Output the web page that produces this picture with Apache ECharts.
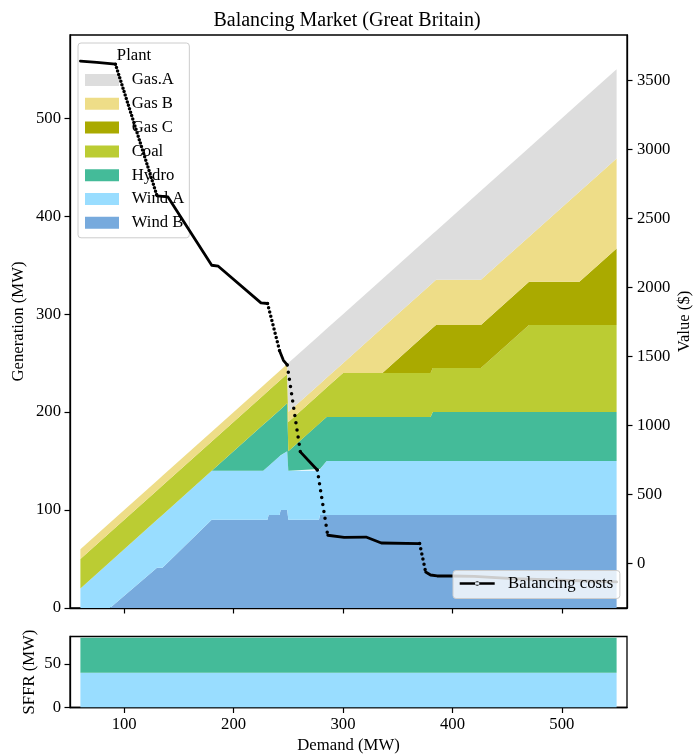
<!DOCTYPE html>
<html>
<head>
<meta charset="utf-8">
<script src="https://cdn.jsdelivr.net/npm/echarts@6/dist/echarts.min.js"></script>
<style>
  html, body { margin: 0; padding: 0; background: #ffffff; }
  #chart { width: 694px; height: 755px; }
</style>
</head>
<body>
<div id="chart"></div>
<script>
// Dispatch of each plant against system demand (MW)
const demand = [60, 87, 130, 135, 180, 227, 231, 232, 242, 243, 249, 250, 278, 279, 285, 300, 336, 380, 382, 385, 426, 470, 516, 550];
const windB  = [0, 0, 41, 41, 90, 90, 90, 95, 95, 100, 100, 90, 90, 95, 95, 95, 95, 95, 95, 95, 95, 95, 95, 95];
const windA  = [20, 47, 49, 54, 50, 50, 54, 50, 60, 56, 60, 50, 50, 47, 55, 55, 55, 55, 55, 55, 55, 55, 55, 55];
const hydro  = [0, 0, 0, 0, 0, 47, 47, 47, 47, 47, 49, 20, 48, 47, 45, 45, 45, 45, 50, 50, 50, 50, 50, 50];
const coal   = [30, 30, 30, 30, 30, 30, 30, 30, 30, 30, 30, 30, 30, 30, 30, 45, 45, 45, 45, 45, 45, 89, 89, 89];
const gasC   = [0, 0, 0, 0, 0, 0, 0, 0, 0, 0, 0, 0, 0, 0, 0, 0, 0, 44, 41, 44, 44, 44, 44, 78];
const gasB   = [10, 10, 10, 10, 10, 10, 10, 10, 10, 10, 10, 10, 10, 10, 10, 10, 46, 46, 46, 46, 46, 46, 92, 92];
const gasA   = [0, 0, 0, 0, 0, 0, 0, 0, 0, 0, 0, 50, 50, 50, 50, 50, 50, 50, 50, 50, 91, 91, 91, 91];

// Balancing costs ($) against demand (MW)
const costDemand = [60, 75, 92, 130, 140, 180, 186, 225, 231, 242, 245.5, 249, 261, 276.5, 286, 301, 321, 335, 370, 375.5, 380, 386, 399, 420, 455, 500, 550];
const costValue  = [3638, 3628, 3616, 2662, 2654, 2159, 2152, 1886, 1882, 1540, 1470, 1437, 807, 676, 203, 188, 190, 147, 143, -63, -85, -92, -92, -95, -111, -123, -135];
// Index ranges of the steep stretches, where the cost points spread out into dots
const costSteepRuns = [[2, 3], [8, 9], [11, 12], [13, 14], [18, 19]];

// SFFR provision (MW)
const sffrDemand = [60, 550];
const sffrWindA  = [40, 40];
const sffrHydro  = [40, 40];

// Tick labels
const demandTicks = [100, 200, 300, 400, 500];
const generationTicks = [0, 100, 200, 300, 400, 500];
const valueTicks = [0, 500, 1000, 1500, 2000, 2500, 3000, 3500];
const sffrTicks = [0, 50];

// ---- styling ----
const FONT = '"Liberation Serif", "DejaVu Serif", serif';
const TXT = 16.7;
const plantStyle = {
  'Wind B': '#77AADD',
  'Wind A': '#99DDFF',
  'Hydro':  '#44BB99',
  'Coal':   '#BBCC33',
  'Gas C':  '#AAAA00',
  'Gas B':  '#EEDD88',
  'Gas.A':  '#DDDDDD'
};
const dotGaps = [3.6, 4.4, 7.3, 7.0, 5.3];
const patchIcon = 'path://M0,0H34V12H0Z M41.7,0L41.7,0 M41.7,12L41.7,12';
const costIcon = 'path://M0,3.7H35V6.3H0Z M15.3,5A2.2,2.2 0 1,0 19.7,5A2.2,2.2 0 1,0 15.3,5Z M43.3,0L43.3,0 M43.3,10L43.3,10';

// Value first, demand second: the stack then runs along the value (y) dimension.
const stackRows = (xs, ys) => xs.map((x, i) => [ys[i], x]);
const pairs = (xs, ys) => xs.map((x, i) => [x, ys[i]]);

const plants = [
  ['Wind B', windB], ['Wind A', windA], ['Hydro', hydro], ['Coal', coal],
  ['Gas C', gasC], ['Gas B', gasB], ['Gas.A', gasA]
];

const series = plants.map(([name, vals]) => ({
  name, type: 'line', stack: 'generation',
  xAxisIndex: 0, yAxisIndex: 0,
  data: stackRows(demand, vals),
  encode: { x: 1, y: 0 },
  color: plantStyle[name],
  showSymbol: false, symbol: 'none',
  lineStyle: { width: 0 },
  areaStyle: { color: plantStyle[name], opacity: 1 },
  silent: true, z: 2
}));

function costLine(i0, i1, gap) {
  const xs = costDemand.slice(i0, i1 + 1);
  const ys = costValue.slice(i0, i1 + 1);
  return {
    name: 'Balancing costs', type: 'line',
    xAxisIndex: 0, yAxisIndex: 1,
    data: pairs(xs, ys),
    color: '#000000',
    showSymbol: false, symbol: 'none',
    lineStyle: gap
      ? { color: '#000000', width: 3.5, type: [0, gap], cap: 'round' }
      : { color: '#000000', width: 2.8, cap: 'round', join: 'round' },
    silent: true, z: 5
  };
}
let from = 0;
costSteepRuns.forEach((run, k) => {
  if (run[0] > from) series.push(costLine(from, run[0], null));
  series.push(costLine(run[0], run[1], dotGaps[k]));
  from = run[1];
});
if (from < costDemand.length - 1) series.push(costLine(from, costDemand.length - 1, null));

[['Wind A', sffrWindA], ['Hydro', sffrHydro]].forEach(([name, vals]) => {
  series.push({
    name: 'SFFR ' + name, type: 'line', stack: 'sffr',
    xAxisIndex: 1, yAxisIndex: 2,
    data: stackRows(sffrDemand, vals),
    encode: { x: 1, y: 0 },
    color: plantStyle[name],
    showSymbol: false, symbol: 'none',
    lineStyle: { width: 0 },
    areaStyle: { color: plantStyle[name], opacity: 1 },
    silent: true, z: 2
  });
});

const plain = v => String(v);
const tickStyle = { show: true, length: 5.5, lineStyle: { color: '#000', width: 1.2 } };
const lineStyleAxis = { show: true, lineStyle: { color: '#000', width: 1.3 } };
const labelStyle = { color: '#000', fontFamily: FONT, fontSize: TXT, formatter: plain };
const nameStyle = { color: '#000', fontFamily: FONT, fontSize: TXT };
const gridFrame = { show: true, borderColor: '#000', borderWidth: 1.3, backgroundColor: 'transparent', containLabel: false, outerBoundsMode: 'none' };

const option = {
  animation: false,
  backgroundColor: '#ffffff',
  textStyle: { fontFamily: FONT },
  title: {
    text: 'Balancing Market (Great Britain)',
    left: 'center', top: 6,
    textStyle: { color: '#000', fontFamily: FONT, fontSize: 20, fontWeight: 'normal' }
  },
  grid: [
    Object.assign({ left: 70, right: 67, top: 35, height: 573 }, gridFrame),
    Object.assign({ left: 70, right: 67, top: 636.5, height: 71 }, gridFrame)
  ],
  xAxis: [
    {
      type: 'value', gridIndex: 0, min: 50.5, max: 559.5,
      axisLine: lineStyleAxis,
      axisTick: Object.assign({ customValues: demandTicks }, tickStyle),
      axisLabel: { show: false },
      splitLine: { show: false }
    },
    {
      type: 'value', gridIndex: 1, min: 50.5, max: 559.5,
      name: 'Demand (MW)', nameLocation: 'middle', nameGap: 30, nameMoveOverlap: false, nameTextStyle: nameStyle,
      axisLine: lineStyleAxis,
      axisTick: Object.assign({ customValues: demandTicks }, tickStyle),
      axisLabel: Object.assign({ customValues: demandTicks, margin: 9 }, labelStyle),
      splitLine: { show: false }
    }
  ],
  yAxis: [
    {
      type: 'value', gridIndex: 0, min: 0, max: 585,
      name: 'Generation (MW)', nameLocation: 'middle', nameGap: 43, nameRotate: 90, nameMoveOverlap: false, nameTextStyle: nameStyle,
      axisLine: lineStyleAxis,
      axisTick: Object.assign({ customValues: generationTicks }, tickStyle),
      axisLabel: Object.assign({ customValues: generationTicks, margin: 9 }, labelStyle),
      splitLine: { show: false }
    },
    {
      type: 'value', gridIndex: 0, position: 'right', min: -324, max: 3827,
      name: 'Value ($)', nameLocation: 'middle', nameGap: 49, nameRotate: 90, nameMoveOverlap: false, nameTextStyle: nameStyle,
      axisLine: lineStyleAxis,
      axisTick: Object.assign({ customValues: valueTicks }, tickStyle),
      axisLabel: Object.assign({ customValues: valueTicks, margin: 10 }, labelStyle),
      splitLine: { show: false }
    },
    {
      type: 'value', gridIndex: 1, min: 0, max: 81.5,
      name: 'SFFR (MW)', nameLocation: 'middle', nameGap: 31.5, nameRotate: 90, nameMoveOverlap: false, nameTextStyle: nameStyle,
      axisLine: lineStyleAxis,
      axisTick: Object.assign({ customValues: sffrTicks }, tickStyle),
      axisLabel: Object.assign({ customValues: sffrTicks, margin: 9 }, labelStyle),
      splitLine: { show: false }
    }
  ],
  legend: [
    {
      orient: 'vertical', left: 78, top: 43,
      padding: [27, 5, 5, 7],
      itemGap: 3.8, itemWidth: 41.7, itemHeight: 12,
      selectedMode: false,
      backgroundColor: 'rgba(255,255,255,0.8)',
      borderColor: '#cccccc', borderWidth: 1, borderRadius: 3,
      textStyle: { color: '#000', fontFamily: FONT, fontSize: TXT, lineHeight: 20 },
      itemStyle: { borderWidth: 0 },
      data: ['Gas.A', 'Gas B', 'Gas C', 'Coal', 'Hydro', 'Wind A', 'Wind B'].map(n => ({ name: n, icon: patchIcon })),
      z: 3
    },
    {
      orient: 'vertical', left: 453, top: 570.5,
      padding: [3, 6.7, 5, 6.7],
      itemWidth: 43.3, itemHeight: 10,
      selectedMode: false,
      backgroundColor: 'rgba(255,255,255,0.8)',
      borderColor: '#cccccc', borderWidth: 1, borderRadius: 3,
      textStyle: { color: '#000', fontFamily: FONT, fontSize: TXT, lineHeight: 20 },
      itemStyle: { borderWidth: 0, color: '#000' },
      data: [{ name: 'Balancing costs', icon: costIcon }],
      z: 6
    }
  ],
  graphic: [
    {
      type: 'text', x: 134, y: 56, z: 4,
      style: { text: 'Plant', fill: '#000', font: TXT + 'px ' + FONT, textAlign: 'center', textVerticalAlign: 'middle' }
    }
  ],
  series
};

const chart = echarts.init(document.getElementById('chart'), null, { renderer: 'canvas' });
chart.setOption(option);
</script>
</body>
</html>
